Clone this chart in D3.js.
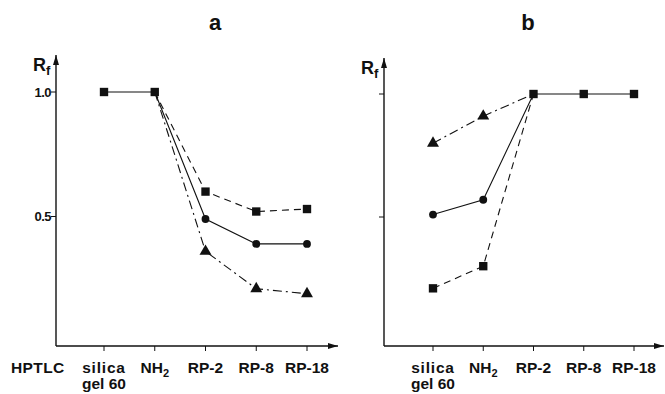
<!DOCTYPE html>
<html>
<head>
<meta charset="utf-8">
<script src="https://cdn.jsdelivr.net/npm/d3@7"></script>
<style>
  html, body { margin: 0; padding: 0; background: #fff; }
  svg { display: block; }
  text { font-family: "Liberation Sans", Arial, sans-serif; font-weight: bold; fill: #111; }
</style>
</head>
<body>
<svg id="chart" width="665" height="394"></svg>
<script>
// Plate types on the x axis
const categories = ["silica gel 60", "NH2", "RP-2", "RP-8", "RP-18"];
const yTicksA = [0.5, 1.0];
const yTickLabelsA = ["0.5", "1.0"];

// Panel a: Rf values per compound (square, circle, triangle)
const aSquare   = [1.0, 1.0, 0.60, 0.52, 0.53];
const aCircle   = [1.0, 1.0, 0.49, 0.39, 0.39];
const aTriangle = [1.0, 1.0, 0.36, 0.21, 0.19];

// Panel b
const bSquare   = [0.21, 0.30, 1.0, 1.0, 1.0];
const bCircle   = [0.51, 0.57, 1.0, 1.0, 1.0];
const bTriangle = [0.80, 0.91, 1.0, 1.0, 1.0];

const svg = d3.select("#chart");
const ink = "#111";

svg.append("defs").append("marker")
  .attr("id", "arrow").attr("viewBox", "0 0 10 6")
  .attr("refX", 10).attr("refY", 3)
  .attr("markerWidth", 10).attr("markerHeight", 6)
  .attr("markerUnits", "userSpaceOnUse")
  .attr("orient", "auto")
  .append("path").attr("d", "M0,0 L10,3 L0,6 Z").attr("fill", ink);

const labelSize = 15.5;

function panel(opts) {
  const g = svg.append("g");
  const x = d3.scalePoint().domain(categories).range(opts.xRange);
  const y = d3.scaleLinear().domain([0, 1]).range(opts.yRange);

  // axes
  g.append("line").attr("x1", opts.axisX).attr("x2", opts.axisX)
    .attr("y1", opts.axisY).attr("y2", opts.yTop)
    .attr("stroke", ink).attr("stroke-width", 1.4).attr("marker-end", "url(#arrow)");
  g.append("line").attr("x1", opts.axisX).attr("x2", opts.xEnd)
    .attr("y1", opts.axisY).attr("y2", opts.axisY)
    .attr("stroke", ink).attr("stroke-width", 1.4).attr("marker-end", "url(#arrow)");

  // x ticks (downward) and labels
  g.selectAll(".xt").data(categories).join("line")
    .attr("x1", d => x(d)).attr("x2", d => x(d))
    .attr("y1", opts.axisY).attr("y2", opts.axisY + 5)
    .attr("stroke", ink).attr("stroke-width", 1);

  categories.forEach(c => {
    const t = g.append("text").attr("x", x(c)).attr("y", 373)
      .attr("text-anchor", "middle").attr("font-size", labelSize);
    if (c === "silica gel 60") {
      t.text("silica").attr("letter-spacing", 0.8);
      g.append("text").attr("x", x(c)).attr("y", 389)
        .attr("text-anchor", "middle").attr("font-size", labelSize).text("gel 60");
    } else if (c === "NH2") {
      t.text("NH");
      t.append("tspan").attr("dy", 4).attr("font-size", 11).text("2");
    } else {
      t.text(c);
    }
  });

  // y ticks (leftward)
  g.selectAll(".yt").data(yTicksA).join("line")
    .attr("x1", opts.axisX - 5).attr("x2", opts.axisX)
    .attr("y1", d => y(d)).attr("y2", d => y(d))
    .attr("stroke", ink).attr("stroke-width", 1);
  if (opts.tickLabels) {
    g.selectAll(".yl").data(yTicksA).join("text")
      .attr("x", opts.axisX - 5).attr("y", d => y(d) + 4.5)
      .attr("text-anchor", "end").attr("font-size", 13).attr("font-weight", "normal")
      .attr("letter-spacing", -0.5)
      .text((d, i) => yTickLabelsA[i]);
  }

  // Rf label
  const rf = g.append("text").attr("x", opts.axisX - 23).attr("y", opts.yTop + 16)
    .attr("font-size", 18).text("R");
  rf.append("tspan").attr("dy", 4).attr("font-size", 13).text("f");

  // title
  g.append("text").attr("x", opts.titleX).attr("y", 30)
    .attr("text-anchor", "middle").attr("font-size", 22).text(opts.title);

  const line = d3.line().x((d, i) => x(categories[i])).y(d => y(d));

  // series lines
  opts.series.forEach(s => {
    g.append("path").datum(s.values.slice(s.from, s.to + 1))
      .attr("transform", `translate(${x(categories[s.from]) - x(categories[0])},0)`)
      .attr("d", line)
      .attr("fill", "none").attr("stroke", ink).attr("stroke-width", 1.1)
      .attr("stroke-dasharray", s.dash);
  });
  (opts.shared || []).forEach(s => {
    g.append("path").datum(s.values.slice(s.from, s.to + 1))
      .attr("transform", `translate(${x(categories[s.from]) - x(categories[0])},0)`)
      .attr("d", line)
      .attr("fill", "none").attr("stroke", ink).attr("stroke-width", 1.1);
  });

  // markers
  const sym = {
    square: d3.symbol().type(d3.symbolSquare).size(70),
    circle: d3.symbol().type(d3.symbolCircle).size(48),
    triangle: d3.symbol().type(d3.symbolTriangle).size(62)
  };
  opts.markers.forEach(m => {
    m.idx.forEach(i => {
      g.append("path").attr("d", sym[m.shape]())
        .attr("transform", `translate(${x(categories[i])},${y(m.values[i])})`)
        .attr("fill", ink);
    });
  });
}

// Panel a
panel({
  title: "a", titleX: 215,
  xRange: [104, 307], yRange: [341, 92],
  axisX: 56, axisY: 346, yTop: 55, xEnd: 338,
  tickLabels: true,
  series: [
    { values: aSquare, from: 1, to: 4, dash: "7,5" },
    { values: aCircle, from: 1, to: 4, dash: null },
    { values: aTriangle, from: 1, to: 4, dash: "9,4,2,4" }
  ],
  shared: [{ values: aCircle, from: 0, to: 1 }],
  markers: [
    { shape: "triangle", values: aTriangle, idx: [2, 3, 4] },
    { shape: "circle", values: aCircle, idx: [2, 3, 4] },
    { shape: "square", values: aSquare, idx: [0, 1, 2, 3, 4] }
  ]
});

// Panel b
panel({
  title: "b", titleX: 528,
  xRange: [433, 634], yRange: [340, 94],
  axisX: 384, axisY: 346, yTop: 58, xEnd: 664,
  tickLabels: false,
  series: [
    { values: bSquare, from: 0, to: 2, dash: "7,5" },
    { values: bCircle, from: 0, to: 2, dash: null },
    { values: bTriangle, from: 0, to: 2, dash: "9,4,2,4" }
  ],
  shared: [{ values: bSquare, from: 2, to: 4 }],
  markers: [
    { shape: "triangle", values: bTriangle, idx: [0, 1] },
    { shape: "circle", values: bCircle, idx: [0, 1] },
    { shape: "square", values: bSquare, idx: [0, 1, 2, 3, 4] }
  ]
});

// HPTLC row heading
svg.append("text").attr("x", 11).attr("y", 373).attr("font-size", labelSize)
  .attr("letter-spacing", 0.4).text("HPTLC");
</script>
</body>
</html>
